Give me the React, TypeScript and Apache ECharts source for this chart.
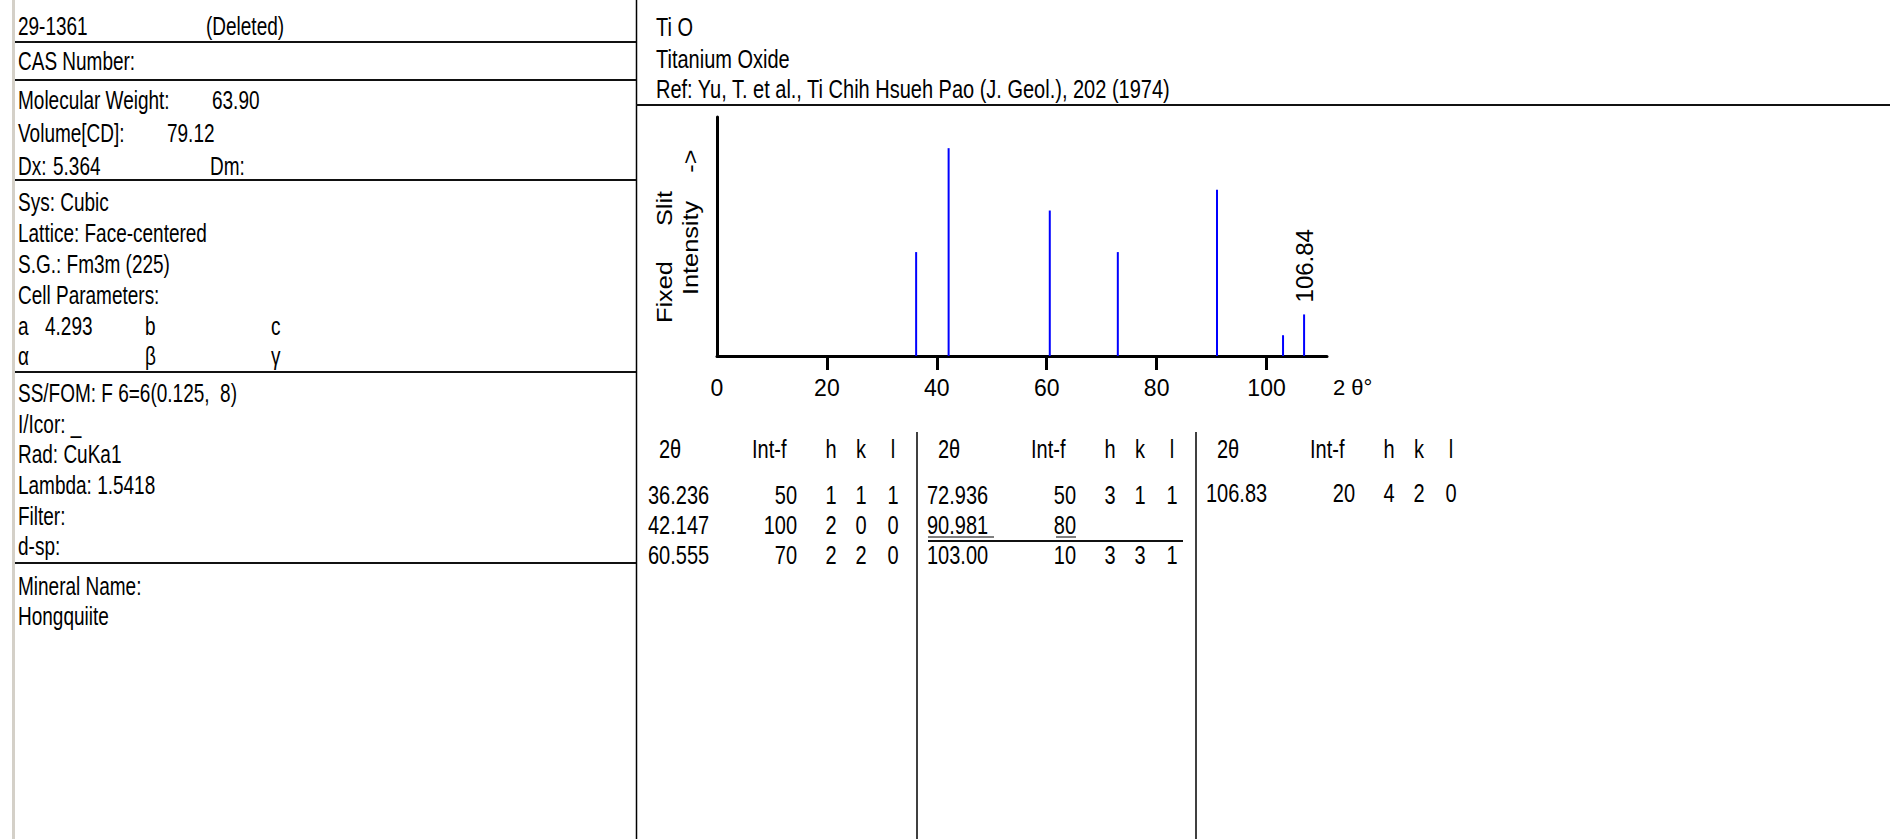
import React, { useEffect, useRef } from 'react';
import * as echarts from 'echarts';

// ---- data ----
const twoTheta = [36.236, 42.147, 60.555, 72.936, 90.981, 103.0, 106.83];
const twoThetaText = ['36.236', '42.147', '60.555', '72.936', '90.981', '103.00', '106.83'];
const intensity = [50, 100, 70, 50, 80, 10, 20];
const hIdx = ['1', '2', '2', '3', '', '3', '4'];
const kIdx = ['1', '0', '2', '1', '', '3', '2'];
const lIdx = ['1', '0', '0', '1', '', '1', '0'];
const xTickLabels = [0, 20, 40, 60, 80, 100];
const xTickMarks = [20, 40, 60, 80, 100];
const labelledPeak = 6;
const labelledPeakText = '106.84';
const tableHeader = ['2θ', 'Int-f', 'h', 'k', 'l'];
const titleLines = ['Ti O', 'Titanium Oxide', 'Ref: Yu, T. et al., Ti Chih Hsueh Pao (J. Geol.), 202 (1974)'];

const FONT = '"Liberation Sans", Arial, sans-serif';

function txt(x: number, y: number, text: string, opts: any = {}) {
  const align = opts.align || 'left';
  return {
    type: 'text',
    x,
    y,
    scaleY: opts.scaleY ?? 1.25,
    scaleX: opts.scaleX ?? 1,
    rotation: opts.rotation ?? 0,
    silent: true,
    style: {
      text,
      x: 0,
      y: 0,
      fill: '#000',
      font: `${opts.size || 20}px ${FONT}`,
      align,
      textAlign: align,
      verticalAlign: 'middle',
      textVerticalAlign: 'middle',
    },
  };
}

function hline(x1: number, x2: number, y: number, w = 2, c = '#111') {
  return { type: 'line', silent: true, shape: { x1, y1: y, x2, y2: y }, style: { stroke: c, lineWidth: w } };
}
function vline(x: number, y1: number, y2: number, w = 1, c = '#000') {
  return { type: 'line', silent: true, shape: { x1: x, y1, x2: x, y2 }, style: { stroke: c, lineWidth: w } };
}

function buildGraphic() {
  const g: any[] = [];
  // left border and separators
  g.push({ type: 'rect', silent: true, shape: { x: 12, y: 0, width: 3, height: 839 }, style: { fill: '#d4d0c8' } });
  g.push(vline(636.5, 0, 839, 1.5));
  [42, 80, 180, 372, 563].forEach((y) => g.push(hline(15, 636, y, 2)));
  g.push(hline(636, 1890, 105, 2));

  // left panel
  const rows: Array<[number, Array<[number, string]>]> = [
    [27, [[18, '29-1361'], [206, '(Deleted)']]],
    [62, [[18, 'CAS Number:']]],
    [101, [[18, 'Molecular Weight:'], [212, '63.90']]],
    [134, [[18, 'Volume[CD]:'], [167, '79.12']]],
    [167, [[18, 'Dx:'], [53, '5.364'], [210, 'Dm:']]],
    [203, [[18, 'Sys: Cubic']]],
    [234, [[18, 'Lattice: Face-centered']]],
    [265, [[18, 'S.G.: Fm3m (225)']]],
    [296, [[18, 'Cell Parameters:']]],
    [327, [[18, 'a'], [45, '4.293'], [145, 'b'], [271, 'c']]],
    [357, [[18, 'α'], [145, 'β'], [271, 'γ']]],
    [394, [[18, 'SS/FOM: F 6=6(0.125,  8)']]],
    [425, [[18, 'I/Icor: _']]],
    [455, [[18, 'Rad: CuKa1']]],
    [486, [[18, 'Lambda: 1.5418']]],
    [517, [[18, 'Filter:']]],
    [547, [[18, 'd-sp:']]],
    [587, [[18, 'Mineral Name:']]],
    [617, [[18, 'Hongquiite']]],
  ];
  rows.forEach(([y, cells]) => cells.forEach(([x, t]) => g.push(txt(x, y, t, { size: 19, scaleY: 1.32 }))));

  // title block
  const titleY = [28, 60, 90];
  titleLines.forEach((t, i) => g.push(txt(656, titleY[i], t)));

  // y axis title (rotated)
  g.push(txt(664.5, 323, 'Fixed     Slit', { rotation: Math.PI / 2, scaleX: 1.15, scaleY: 1, size: 22 }));
  g.push(txt(691, 295, 'Intensity    ->', { rotation: Math.PI / 2, scaleX: 1.15, scaleY: 1, size: 22 }));

  // table
  const rowY = [496, 526, 556];
  for (let grp = 0; grp < 3; grp++) {
    const base = 648 + 279 * grp;
    if (grp > 0) g.push(vline(base - 10, 432, 839, 1.5));
    g.push(txt(base + 11, 450, tableHeader[0]));
    g.push(txt(base + 104, 450, tableHeader[1]));
    g.push(txt(base + 183, 450, tableHeader[2], { align: 'center' }));
    g.push(txt(base + 213, 450, tableHeader[3], { align: 'center' }));
    g.push(txt(base + 245, 450, tableHeader[4], { align: 'center' }));
    for (let r = 0; r < 3; r++) {
      const i = grp * 3 + r;
      if (i >= twoTheta.length) break;
      const y = grp === 2 ? 494 : rowY[r];
      g.push(txt(base, y, twoThetaText[i]));
      g.push(txt(base + 149, y, String(intensity[i]), { align: 'right' }));
      g.push(txt(base + 183, y, hIdx[i], { align: 'center' }));
      g.push(txt(base + 213, y, kIdx[i], { align: 'center' }));
      g.push(txt(base + 245, y, lIdx[i], { align: 'center' }));
    }
  }
  // underline of the unindexed reflection row
  g.push(hline(928, 994, 537, 1, '#000'));
  g.push(hline(1056, 1076, 537, 1, '#000'));
  g.push(hline(928, 1183, 541, 2, '#111'));
  return g;
}

export default function App() {
  const ref = useRef<HTMLDivElement>(null);
  useEffect(() => {
    if (!ref.current) return;
    const chart = echarts.init(ref.current, undefined, { renderer: 'svg' });
    const seriesData = twoTheta.map((x, i) =>
      i === labelledPeak
        ? {
            value: [x, intensity[i]],
            label: {
              show: true,
              formatter: labelledPeakText,
              position: 'top',
              rotate: 90,
              align: 'left',
              verticalAlign: 'middle',
              distance: 12,
              color: '#000',
              fontSize: 24,
              fontFamily: FONT,
            },
          }
        : [x, intensity[i]]
    );
    chart.setOption({
      animation: false,
      backgroundColor: '#fff',
      grid: { left: 717, top: 117, width: 610, height: 239, containLabel: false },
      xAxis: {
        type: 'value',
        min: 0,
        max: 111,
        interval: 20,
        name: '2 θ°',
        nameLocation: 'end',
        nameGap: 6,
        nameTextStyle: {
          color: '#000',
          fontSize: 22,
          fontFamily: '"Liberation Sans Narrow", "Arial Narrow", ' + FONT,
          verticalAlign: 'top',
          padding: [20, 0, 0, 0],
        },
        axisLine: { onZero: false, lineStyle: { color: '#000', width: 3 } },
        axisTick: { show: true, customValues: xTickMarks, length: 14, lineStyle: { color: '#000', width: 3 } },
        axisLabel: {
          customValues: xTickLabels,
          color: '#000',
          fontSize: 23,
          margin: 20,
          fontFamily: '"Liberation Sans Narrow", "Arial Narrow", ' + FONT,
        },
        splitLine: { show: false },
      },
      yAxis: {
        type: 'value',
        min: 0,
        max: 115,
        axisLine: { show: true, onZero: false, lineStyle: { color: '#000', width: 3 } },
        axisTick: { show: false },
        axisLabel: { show: false },
        splitLine: { show: false },
      },
      series: [
        {
          type: 'bar',
          data: seriesData,
          barWidth: 2,
          silent: true,
          itemStyle: { color: '#0000ff' },
        },
      ],
      graphic: buildGraphic(),
    });
    return () => chart.dispose();
  }, []);
  return (
    <div
      ref={ref}
      style={{ position: 'absolute', left: 0, top: 0, width: 1890, height: 839, background: '#fff' }}
    />
  );
}
